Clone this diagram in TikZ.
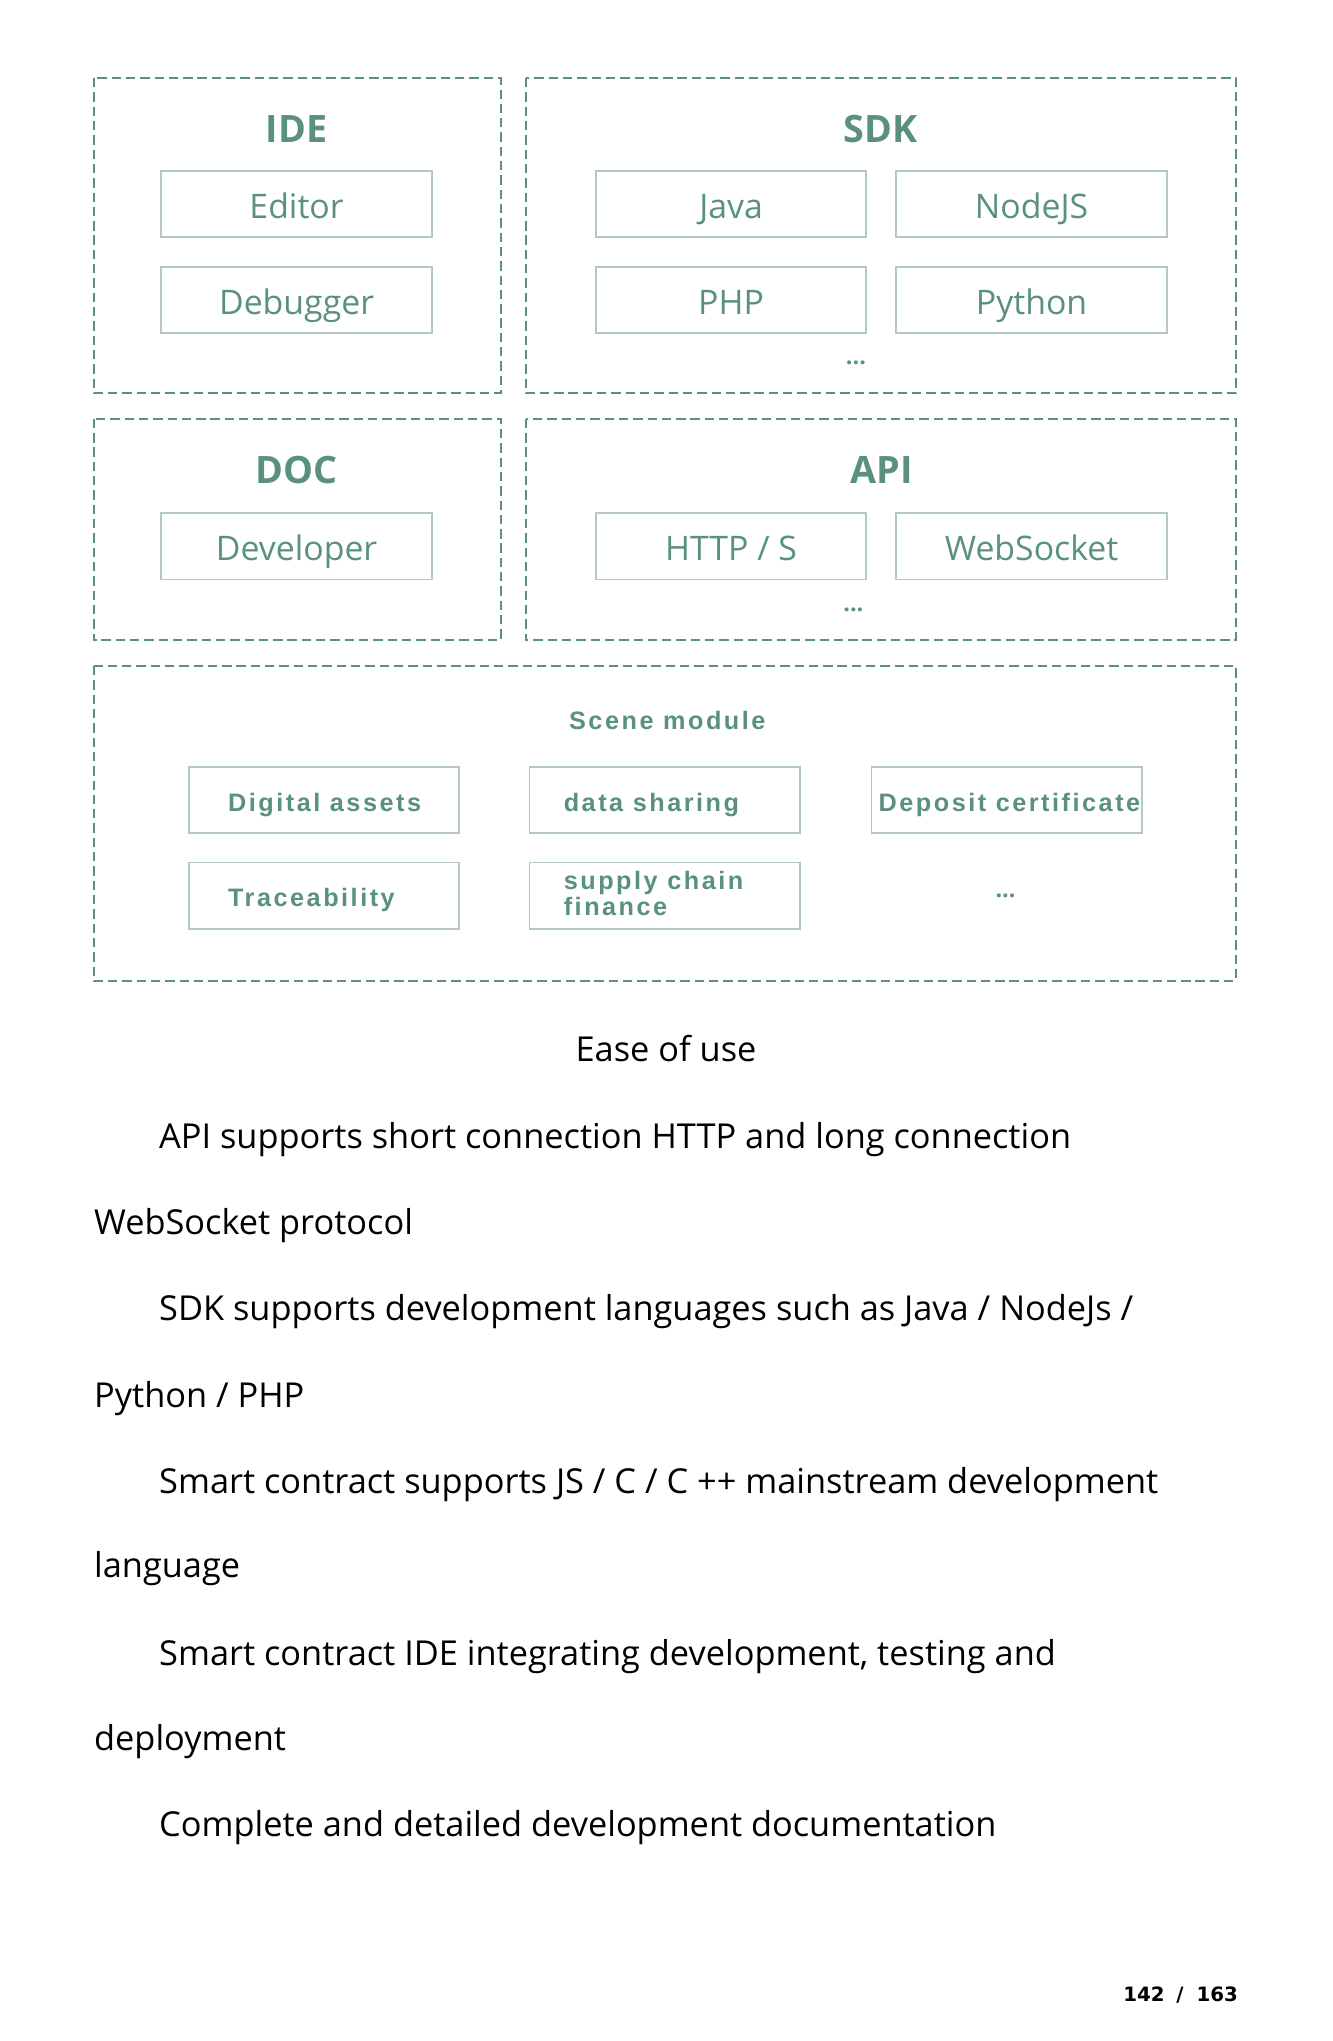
\documentclass[tikz,border=0pt]{standalone}
\usepackage{fontspec}
\setmainfont{Open Sans}
\newfontfamily\scenefont[LetterSpace=10]{Liberation Sans}
\newfontfamily\pagefont{DejaVu Sans}
\usetikzlibrary{positioning}
\definecolor{titlegreen}{HTML}{5A917B}
\definecolor{framegreen}{HTML}{5A917B}
\definecolor{boxline}{HTML}{B3C9C1}
\tikzset{
  frame/.style={draw=framegreen,line width=0.8pt,dash pattern=on 3.6pt off 1.9pt},
  grouptitle/.style={text=titlegreen,font=\fontsize{14.5}{16}\selectfont\bfseries},
  item/.style={draw=boxline,line width=0.7pt,minimum width=104pt,minimum height=25.5pt,
    inner sep=0pt,text height=12.5pt,text depth=1.3pt,text=titlegreen,font=\fontsize{13}{15}\selectfont},
  scenebox/.style={draw=boxline,line width=0.7pt,minimum width=104pt,minimum height=25.5pt,inner sep=0pt},
  scenetext/.style={text=titlegreen,font=\scenefont\bfseries\fontsize{9.7}{10}\selectfont,
    align=left,inner sep=0pt,anchor=west},
  moredots/.style={text=titlegreen,font=\fontsize{9}{10}\selectfont\bfseries},
  body/.style={anchor=base west,inner sep=0pt,font=\fontsize{13.2}{15}\selectfont}
}
\begin{document}
\begin{tikzpicture}[x=0.5pt,y=-0.5pt]
\useasboundingbox (0,0) rectangle (1024,1569);

% group frames
\draw[frame] (72,60) rectangle (385,302);
\draw[frame] (404,60) rectangle (950,302);
\draw[frame] (72,322) rectangle (385,492);
\draw[frame] (404,322) rectangle (950,492);
\draw[frame] (72,512) rectangle (950,754);

% IDE
\node[grouptitle] (ide) at (228,99) {IDE};
\node[item] (editor) at (228,157) {Editor};
\node[item] (debugger) at (228,230.5) {Debugger};

% SDK
\node[grouptitle] (sdk) at (677,99) {SDK};
\node[item] (java) at (562,157) {Java};
\node[item] (nodejs) at (793,157) {NodeJS};
\node[item] (php) at (562,230.5) {PHP};
\node[item] (python) at (793,230.5) {Python};
\node[moredots] (sdkdots) at (658,279) {...};

% DOC
\node[grouptitle] (doc) at (228,361) {DOC};
\node[item] (developer) at (228,420) {Developer};

% API
\node[grouptitle] (api) at (678,361) {API};
\node[item] (http) at (562,420) {HTTP / S};
\node[item] (websocket) at (793,420) {WebSocket};
\node[moredots] (apidots) at (656,469) {...};

% scene module
\node[scenetext,anchor=center] (scene) at (513,554) {Scene module};
\node[scenebox] (assets) at (249,615) {};
\node[scenebox] (sharing) at (511,615) {};
\node[scenebox] (deposit) at (774,615) {};
\node[scenebox] (trace) at (249,688.5) {};
\node[scenebox] (supply) at (511,688.5) {};
\node[scenetext] (assetstext) at (175,619) {Digital assets};
\node[scenetext] (sharingtext) at (433,619) {data sharing};
\node[scenetext] (deposittext) at (675,619) {Deposit certificate};
\node[scenetext] (tracetext) at (175,692) {Traceability};
\node[scenetext] (supplytext) at (433,687) {supply chain\\finance};
\node[moredots] (scenedots) at (773,689) {...};

% text below
\node[body,anchor=base] (ease) at (512,816) {Ease of use};
\foreach \n/\x/\y/\t in {1/122/883/{API supports short connection HTTP and long connection},
    2/72/949/{WebSocket protocol},
    3/122/1015/{SDK supports development languages such as Java / NodeJs /},
    4/72/1082/{Python / PHP},
    5/122/1148/{Smart contract supports JS / C / C ++ mainstream development},
    6/72/1213/{language},
    7/122/1280/{Smart contract IDE integrating development, testing and},
    8/72/1346/{deployment},
    9/122/1412/{Complete and detailed development documentation}}
  \node[body] (line\n) at (\x,\y) {\t};

\node[anchor=east,inner sep=0pt,font=\pagefont\bfseries\fontsize{7.6}{10}\selectfont] (page) at (952,1534) {142\hspace{4.5pt}/\hspace{5pt}163};
\end{tikzpicture}
\end{document}
